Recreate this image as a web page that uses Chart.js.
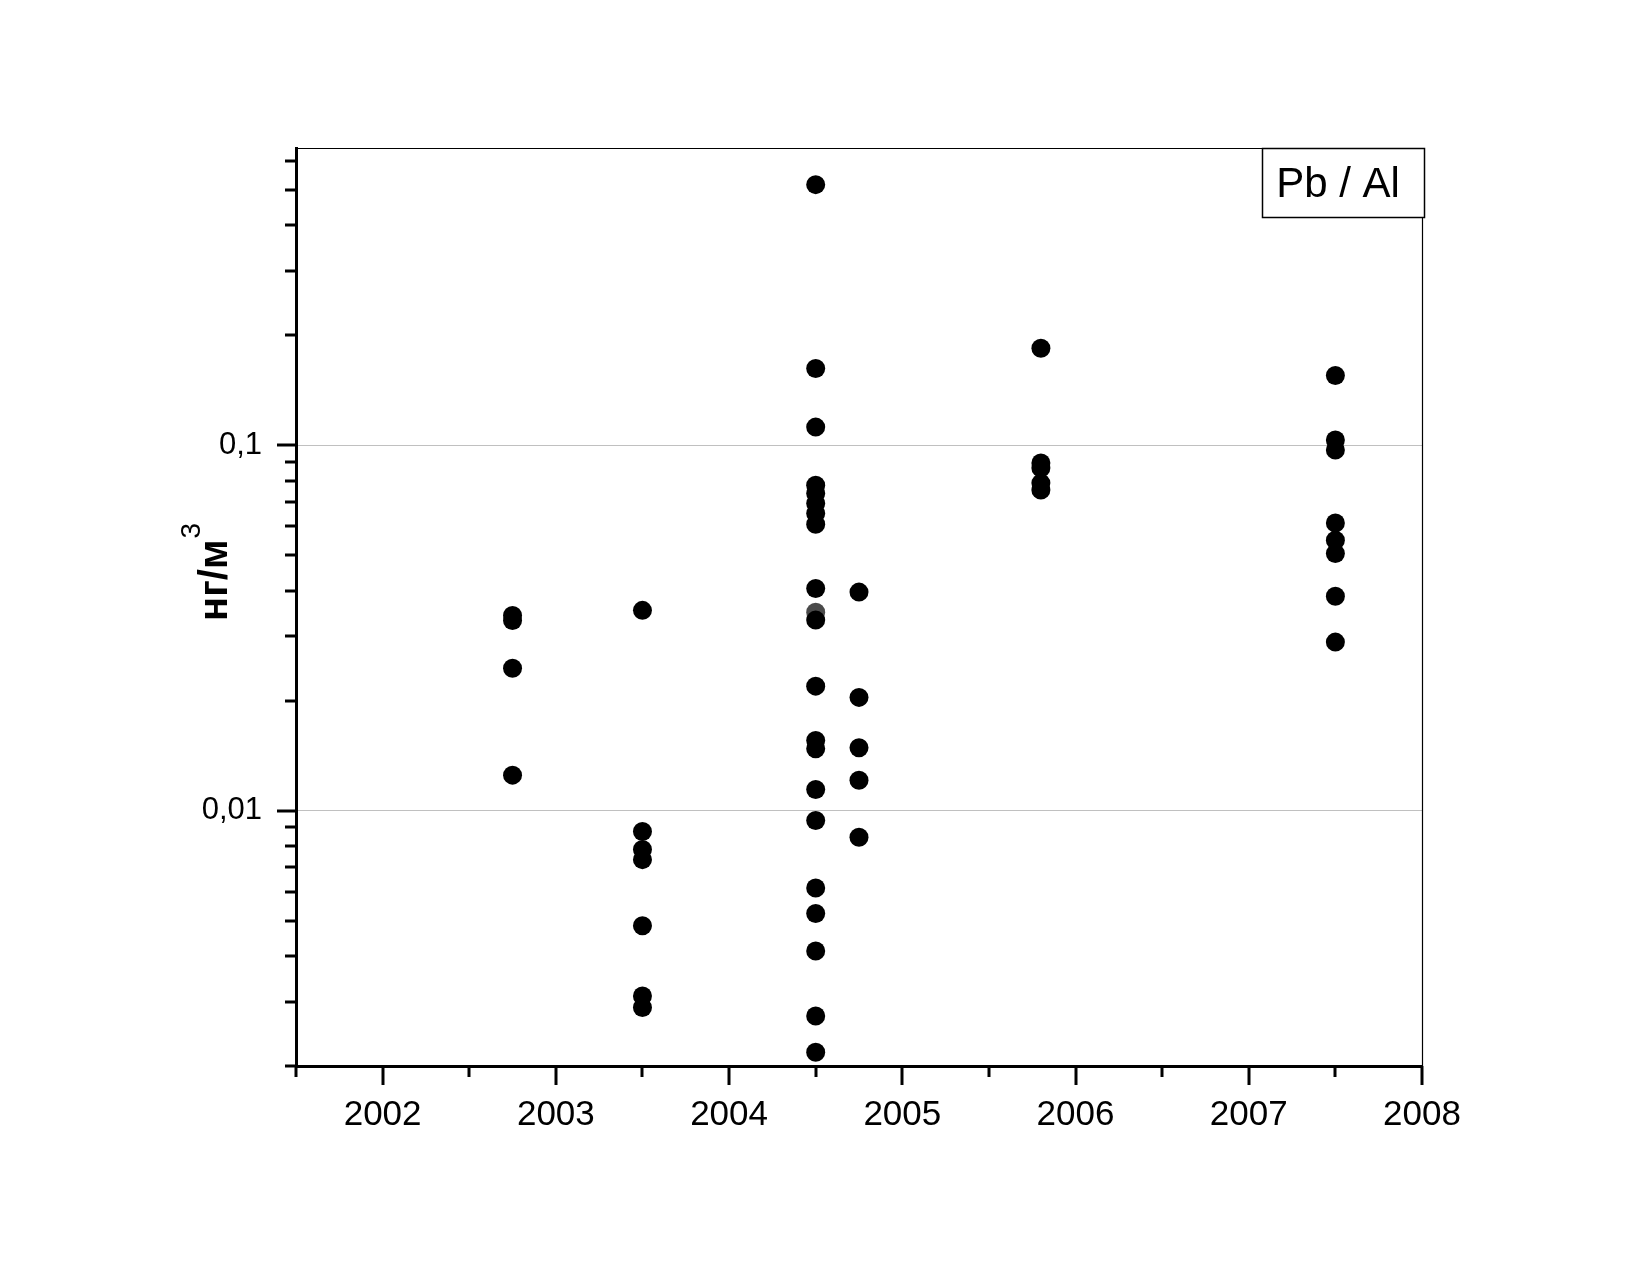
<!DOCTYPE html>
<html>
<head>
<meta charset="utf-8">
<style>
  html, body { margin: 0; padding: 0; background: #fff; }
  canvas { display: block; }
</style>
<script src="https://cdn.jsdelivr.net/npm/chart.js@4.4.1/dist/chart.umd.min.js"></script>
</head>
<body>
<canvas id="c" width="1650" height="1275"></canvas>
<script>
// ---- data ----
const xGroups = [2002.75, 2003.5, 2004.5, 2004.75, 2005.8, 2007.5];
const vals2002 = [0.0342, 0.0331, 0.0245, 0.0125];
const vals2003 = [0.0353, 0.00876, 0.00782, 0.00734, 0.00484, 0.00311, 0.00289];
const vals2004a = [0.516, 0.162, 0.112, 0.0777, 0.0737, 0.0692, 0.065, 0.0607, 0.0405, 0.0332,
                   0.0219, 0.01555, 0.01476, 0.01142, 0.00939, 0.00614, 0.00523, 0.00413, 0.00274, 0.00218];
const vals2004b = [0.0396, 0.0204, 0.01485, 0.0121, 0.00845];
const vals2005 = [0.184, 0.0893, 0.0865, 0.0787, 0.0753];
const vals2007 = [0.155, 0.1032, 0.0969, 0.0612, 0.0549, 0.0505, 0.0386, 0.0289];
const grayX = [2004.5];
const grayVals = [0.0349];

const xTickValues = [2001.5, 2002, 2002.5, 2003, 2003.5, 2004, 2004.5, 2005, 2005.5, 2006, 2006.5, 2007, 2007.5, 2008];
const xTickLabels = ['', '2002', '', '2003', '', '2004', '', '2005', '', '2006', '', '2007', '', '2008'];
const yTickValues = [0.002, 0.003, 0.004, 0.005, 0.006, 0.007, 0.008, 0.009, 0.01,
                     0.02, 0.03, 0.04, 0.05, 0.06, 0.07, 0.08, 0.09, 0.1,
                     0.2, 0.3, 0.4, 0.5, 0.6];
const yLabelMap = { '0.01': '0,01', '0.1': '0,1' };
const yTitle = 'нг/м';
const yTitleSup = '3';
const legendText = 'Pb / Al';

// ---- build points ----
const groups = [vals2002, vals2003, vals2004a, vals2004b, vals2005, vals2007];
const blackPoints = [];
groups.forEach((arr, i) => arr.forEach(v => blackPoints.push({ x: xGroups[i], y: v })));
const grayPoints = grayX.map((x, i) => ({ x: x, y: grayVals[i] }));

const FONT = '"Liberation Sans", Arial, sans-serif';

const decor = {
  id: 'decor',
  beforeDatasetsDraw(chart) {
    const { ctx, chartArea: a } = chart;
    ctx.save();
    ctx.strokeStyle = '#000';
    ctx.lineWidth = 1.2;
    ctx.beginPath();
    ctx.moveTo(a.left, a.top + 0.5);
    ctx.lineTo(a.right + 0.5, a.top + 0.5);
    ctx.lineTo(a.right + 0.5, a.bottom);
    ctx.stroke();
    ctx.restore();
  },
  afterDraw(chart) {
    const { ctx, chartArea: a, scales } = chart;
    ctx.save();
    ctx.strokeStyle = '#000';
    ctx.lineWidth = 3;
    // y tick marks
    const ys = scales.y;
    yTickValues.forEach(v => {
      const py = Math.round(ys.getPixelForValue(v));
      const len = yLabelMap[String(v)] ? 19 : 11;
      ctx.beginPath();
      ctx.moveTo(a.left - len, py);
      ctx.lineTo(a.left, py);
      ctx.stroke();
    });
    // x tick marks
    const xs = scales.x;
    xTickValues.forEach((v, i) => {
      const px = Math.round(xs.getPixelForValue(v));
      const len = xTickLabels[i] ? 19 : 11;
      ctx.beginPath();
      ctx.moveTo(px, a.bottom);
      ctx.lineTo(px, a.bottom + len);
      ctx.stroke();
    });
    // y title with superscript
    ctx.fillStyle = '#000';
    ctx.translate(227, 621);
    ctx.rotate(-Math.PI / 2);
    ctx.font = 'bold 40px ' + FONT;
    ctx.textAlign = 'left';
    ctx.textBaseline = 'alphabetic';
    ctx.fillText(yTitle, 0, 0);
    const w = ctx.measureText(yTitle).width;
    ctx.font = '28px ' + FONT;
    ctx.fillText(yTitleSup, w + 1, -27);
    ctx.restore();

    // legend box
    ctx.save();
    const bx = 1262, by = 148, bw = a.right + 2 - 1262, bh = 69;
    ctx.fillStyle = '#fff';
    ctx.fillRect(bx, by, bw, bh);
    ctx.strokeStyle = '#000';
    ctx.lineWidth = 1.5;
    ctx.strokeRect(bx + 0.5, by + 0.5, bw, bh);
    ctx.fillStyle = '#000';
    ctx.font = '42px ' + FONT;
    ctx.textAlign = 'center';
    ctx.textBaseline = 'alphabetic';
    ctx.fillText(legendText, bx + bw / 2 - 5, 197);
    ctx.restore();
  }
};

new Chart(document.getElementById('c'), {
  type: 'scatter',
  data: {
    datasets: [
      {
        label: 'gray',
        data: grayPoints,
        backgroundColor: '#4a4a4a',
        borderColor: '#4a4a4a',
        pointRadius: 9.5,
        pointHoverRadius: 9.5,
        borderWidth: 0,
        order: 2
      },
      {
        label: 'Pb / Al',
        data: blackPoints,
        backgroundColor: '#000',
        borderColor: '#000',
        pointRadius: 9.5,
        pointHoverRadius: 9.5,
        borderWidth: 0,
        order: 1
      }
    ]
  },
  options: {
    responsive: false,
    devicePixelRatio: 1,
    animation: false,
    events: [],
    layout: { padding: { left: 0, top: 148, right: 228, bottom: 0 } },
    plugins: { legend: { display: false }, tooltip: { enabled: false }, title: { display: false } },
    scales: {
      x: {
        type: 'linear',
        min: 2001.5,
        max: 2008,
        afterBuildTicks(scale) { scale.ticks = xTickValues.map(v => ({ value: v })); },
        afterFit(scale) { scale.height = 209; },
        grid: { display: true, drawOnChartArea: false, drawTicks: false },
        border: { display: true, color: '#000', width: 3 },
        ticks: {
          color: '#000',
          font: { family: FONT, size: 35 },
          padding: 28,
          maxRotation: 0,
          autoSkip: false,
          callback(value, index) { return xTickLabels[index]; }
        }
      },
      y: {
        type: 'logarithmic',
        min: 0.002,
        max: 0.65,
        afterBuildTicks(scale) { scale.ticks = yTickValues.map(v => ({ value: v })); },
        afterFit(scale) { scale.width = 296; },
        grid: {
          drawTicks: false,
          color(ctx) {
            const v = ctx.tick && ctx.tick.value;
            return (v === 0.1 || v === 0.01) ? '#c0c0c0' : 'rgba(0,0,0,0)';
          },
          lineWidth: 1
        },
        border: { display: true, color: '#000', width: 3 },
        ticks: {
          color: '#000',
          font: { family: FONT, size: 31 },
          padding: 34,
          autoSkip: false,
          callback(value) { return yLabelMap[String(value)] || ''; }
        }
      }
    }
  },
  plugins: [decor]
});
</script>
</body>
</html>
